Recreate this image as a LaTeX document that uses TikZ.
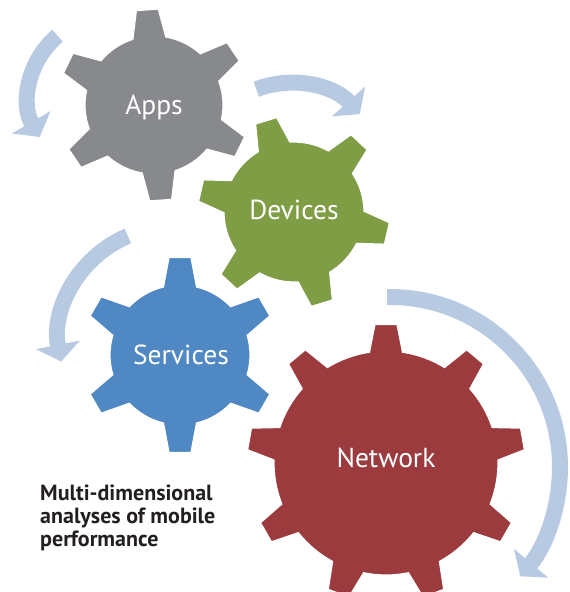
\documentclass[tikz,border=0pt]{standalone}
\usepackage{fontspec}
\setmainfont{PT Sans}
\usetikzlibrary{arrows.meta}
\definecolor{gearGray}{HTML}{87898C}
\definecolor{gearGreen}{HTML}{7F9D45}
\definecolor{gearBlue}{HTML}{4F88C2}
\definecolor{gearRed}{HTML}{9C3B3E}
\definecolor{arrowBlue}{HTML}{B8CAE2}
\definecolor{capText}{HTML}{231F20}
\newcommand\mygear[7]{%
  \pgfmathsetmacro\gstep{360/#5}%
  \pgfmathsetmacro\gab{asin(16.5/#3)}%
  \pgfmathsetmacro\gat{asin(11/#4)}%
  \fill[#7, draw=white, line width=1.2pt, shift={(#1,#2)}]
    ({#6-\gab}:#3pt)
    \foreach \k in {1,...,#5}{
      -- ({#6+(\k-1)*\gstep-\gab}:#3pt)
      -- ({#6+(\k-1)*\gstep-\gat}:#4pt)
      -- ({#6+(\k-1)*\gstep+\gat}:#4pt)
      -- ({#6+(\k-1)*\gstep+\gab}:#3pt)
      arc[start angle={#6+(\k-1)*\gstep+\gab}, end angle={#6+\k*\gstep-\gab}, radius=#3pt]
    } -- cycle;%
}
\tikzset{
  cyclearrow/.style={draw=arrowBlue, line width=16pt, -{Triangle[width=44pt,length=17pt]}},
  gearlabel/.style={text=white, font=\fontsize{27.5}{32}\selectfont, inner sep=0pt, anchor=base},
  caption/.style={text=capText, font=\bfseries\fontsize{22}{22.7}\selectfont, align=left, inner sep=0pt, anchor=north west}
}
\begin{document}
\begin{tikzpicture}[x=1pt,y=1pt]
\useasboundingbox (0,0) rectangle (570,592);
% cycle arrows
\draw[cyclearrow] (109,495) ++(130:80pt) arc[start angle=130, end angle=210, radius=80pt];
\draw[cyclearrow] (290,415) ++(111:94pt) arc[start angle=111, end angle=42, radius=94pt];
\draw[cyclearrow] (172,252) ++(113:113pt) arc[start angle=113, end angle=191, radius=113pt];
\draw[cyclearrow] (390,125) ++(91:170pt) arc[start angle=91, end angle=-40, radius=170pt];
% gears
\mygear{154}{487}{69}{96}{6}{34}{gearGray}
\mygear{294}{380}{70}{96}{6}{47}{gearGreen}
\mygear{180}{237}{70}{98}{6}{30}{gearBlue}
\mygear{386}{129}{112}{139}{9}{10}{gearRed}
% labels
\node[gearlabel] (apps) at (154,477) {Apps};
\node[gearlabel] (devices) at (294,372) {Devices};
\node[gearlabel] (services) at (181,227) {Services};
\node[gearlabel] (network) at (386,124) {Network};
\node[caption] (cap) at (40,107) {Multi-dimensional\\analyses of mobile\\performance};
\end{tikzpicture}
\end{document}
